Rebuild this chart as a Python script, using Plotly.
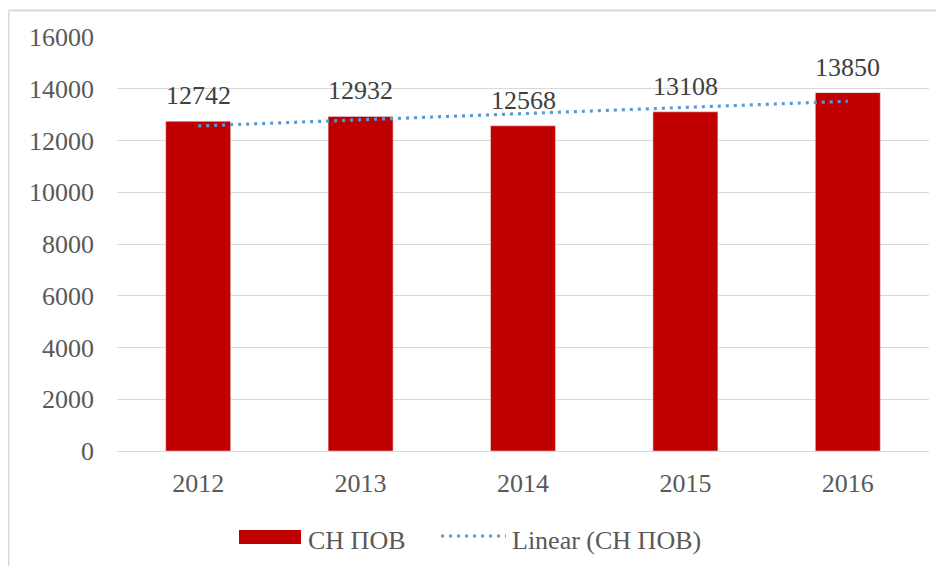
import plotly.graph_objects as go
import numpy as np

years = ["2012", "2013", "2014", "2015", "2016"]
values = [12742, 12932, 12568, 13108, 13850]
series_name = "СН ПОВ"
trend_name = "Linear (СН ПОВ)"
y_ticks = [0, 2000, 4000, 6000, 8000, 10000, 12000, 14000, 16000]

FONT = "Liberation Serif, Times New Roman, serif"
BAR = "#C00000"
TREND = "#5B9BD5"
GRID = "#D9D9D9"
AXIS_TXT = "#595959"
LABEL_TXT = "#404040"

# linear trendline (least squares on category index)
xi = np.arange(len(values))
slope, intercept = np.polyfit(xi, values, 1)
trend = (slope * xi + intercept).tolist()

fig = go.Figure()
fig.add_trace(go.Bar(x=years, y=values, name=series_name, marker_color=BAR,
                     width=0.4, showlegend=False))
fig.add_trace(go.Scatter(x=years, y=trend, name=trend_name, mode="lines",
                         line=dict(color=TREND, width=3.2, dash="3px,5px"),
                         showlegend=False))

for i, v in enumerate(values):
    fig.add_annotation(x=i, y=v, xref="x", yref="y", text=str(v), showarrow=False,
                       yanchor="bottom", yshift=9,
                       font=dict(family=FONT, size=26, color=LABEL_TXT))

# page is offset by the 8px body margin; work in page pixels
W = 944 - 117 - 15
H = 451 - 37
def px(x):
    return (x - 117) / W
def py(y):
    return (451 - y) / H

# chart border (top and left visible)
fig.add_shape(type="line", xref="paper", yref="paper", x0=px(8.5), x1=px(960),
              y0=py(10.5), y1=py(10.5), line=dict(color=GRID, width=2))
fig.add_shape(type="line", xref="paper", yref="paper", x0=px(8.5), x1=px(8.5),
              y0=py(10.5), y1=py(580), line=dict(color=GRID, width=2))

# custom legend
fig.add_shape(type="rect", xref="paper", yref="paper", x0=px(239), x1=px(301),
              y0=py(544), y1=py(530), fillcolor=BAR, line=dict(width=0))
fig.add_annotation(xref="paper", yref="paper", x=px(306), y=py(540), text=series_name,
                   showarrow=False, xanchor="left", yanchor="middle",
                   font=dict(family=FONT, size=26, color=AXIS_TXT))
fig.add_shape(type="line", xref="paper", yref="paper", x0=px(441), x1=px(506),
              y0=py(536), y1=py(536), line=dict(color=TREND, width=3.2, dash="3px,5px"))
fig.add_annotation(xref="paper", yref="paper", x=px(510), y=py(540), text=trend_name,
                   showarrow=False, xanchor="left", yanchor="middle",
                   font=dict(family=FONT, size=26, color=AXIS_TXT))

fig.update_layout(
    width=936, height=558,
    margin=dict(l=109, r=15, t=29, b=115, autoexpand=False),
    paper_bgcolor="white", plot_bgcolor="white",
    font=dict(family=FONT, size=26, color=AXIS_TXT),
    showlegend=False,
    bargap=0.6,
)
fig.update_xaxes(type="category", range=[-0.5, 4.5], showgrid=False, showline=True,
                 linecolor=GRID, linewidth=1, ticks="", ticklabelstandoff=9,
                 tickfont=dict(family=FONT, size=26, color=AXIS_TXT))
fig.update_yaxes(range=[0, 16000], tickvals=y_ticks, tickformat="d", showgrid=True,
                 gridcolor=GRID, gridwidth=1, zeroline=False, showline=False, ticks="",
                 ticklabelstandoff=22,
                 tickfont=dict(family=FONT, size=26, color=AXIS_TXT))

fig.write_html("out.html")
